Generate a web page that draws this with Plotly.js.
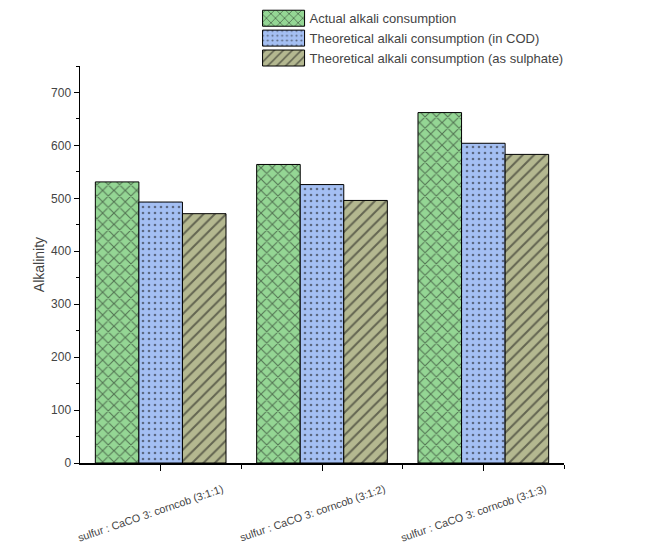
<!DOCTYPE html>
<html>
<head>
<meta charset="utf-8">
<script src="https://cdn.plot.ly/plotly-3.0.1.min.js"></script>
<style>html,body{margin:0;padding:0;background:#fff}#chart{width:666px;height:548px}</style>
</head>
<body>
<div id="chart"></div>
<script>
const categories = ["sulfur : CaCO 3: corncob (3:1:1)", "sulfur : CaCO 3: corncob (3:1:2)", "sulfur : CaCO 3: corncob (3:1:3)"];
const seriesNames = ["Actual alkali consumption", "Theoretical alkali consumption (in COD)", "Theoretical alkali consumption (as sulphate)"];
const actual = [531, 564, 662];
const theoreticalCOD = [493, 526, 604];
const theoreticalSulphate = [471, 496, 583];
const yTickVals = [0, 100, 200, 300, 400, 500, 600, 700];

const xIdx = categories.map((c, i) => i);
const colors = ["#94d694", "#a4bff3", "#b4b890"];
const shapes = ["x", ".", "/"];
const values = [actual, theoreticalCOD, theoreticalSulphate];

const traces = values.map((v, k) => ({
  type: "bar",
  x: xIdx,
  y: v,
  name: seriesNames[k],
  marker: {
    color: colors[k],
    line: {color: "#000", width: 1},
    pattern: {shape: shapes[k], fgcolor: "#111", bgcolor: colors[k], size: k === 1 ? 6 : 8, solidity: k === 1 ? 0.15 : 0.25, fillmode: "overlay"}
  }
}));

const annotations = categories.map((c, i) => ({
  x: i, y: 0, xref: "x", yref: "y",
  text: c, showarrow: false,
  textangle: -19,
  xanchor: "center", yanchor: "middle",
  xshift: -10, yshift: -50,
  font: {family: "Liberation Sans, Arial, sans-serif", size: 10.8, color: "#444"}
}));

const layout = {
  width: 666, height: 548,
  margin: {l: 80, r: 102, t: 66, b: 85, autoexpand: false},
  paper_bgcolor: "#fff", plot_bgcolor: "#fff",
  barmode: "group",
  bargap: 0.19, bargroupgap: 0,
  font: {family: "Liberation Sans, Arial, sans-serif", color: "#444"},
  xaxis: {
    type: "linear",
    range: [-0.5, 2.5],
    tickvals: xIdx,
    showticklabels: false,
    ticks: "outside", ticklen: 6, tickwidth: 1, tickcolor: "#000",
    minor: {tickvals: [0.5, 1.5, 2.5], ticks: "outside", ticklen: 4, tickcolor: "#000"},
    showline: true, linecolor: "#000", linewidth: 1.5,
    showgrid: false, zeroline: false
  },
  yaxis: {
    range: [0, 750],
    tickvals: yTickVals,
    ticks: "outside", ticklen: 5, tickwidth: 1, tickcolor: "#000",
    minor: {dtick: 50, ticks: "outside", ticklen: 3, tickcolor: "#000"},
    tickfont: {size: 12, color: "#444"},
    showline: true, linecolor: "#000", linewidth: 1.5,
    showgrid: false, zeroline: false,
    title: {text: "Alkalinity", font: {size: 14, color: "#444"}, standoff: 3}
  },
  legend: {
    x: 0.371, y: 1.158, xanchor: "left", yanchor: "top",
    font: {size: 13, color: "#444"},
    bgcolor: "rgba(0,0,0,0)",
    tracegroupgap: 0, itemwidth: 40
  },
  annotations: annotations,
  showlegend: true
};

Plotly.newPlot("chart", traces, layout, {displayModeBar: false, staticPlot: true}).then(gd => {
  gd.querySelectorAll(".legend .legendpoints path").forEach(p => {
    p.setAttribute("d", "M20,8H-22V-8H20Z");
    p.style.strokeWidth = "1px";
  });
});
</script>
</body>
</html>
